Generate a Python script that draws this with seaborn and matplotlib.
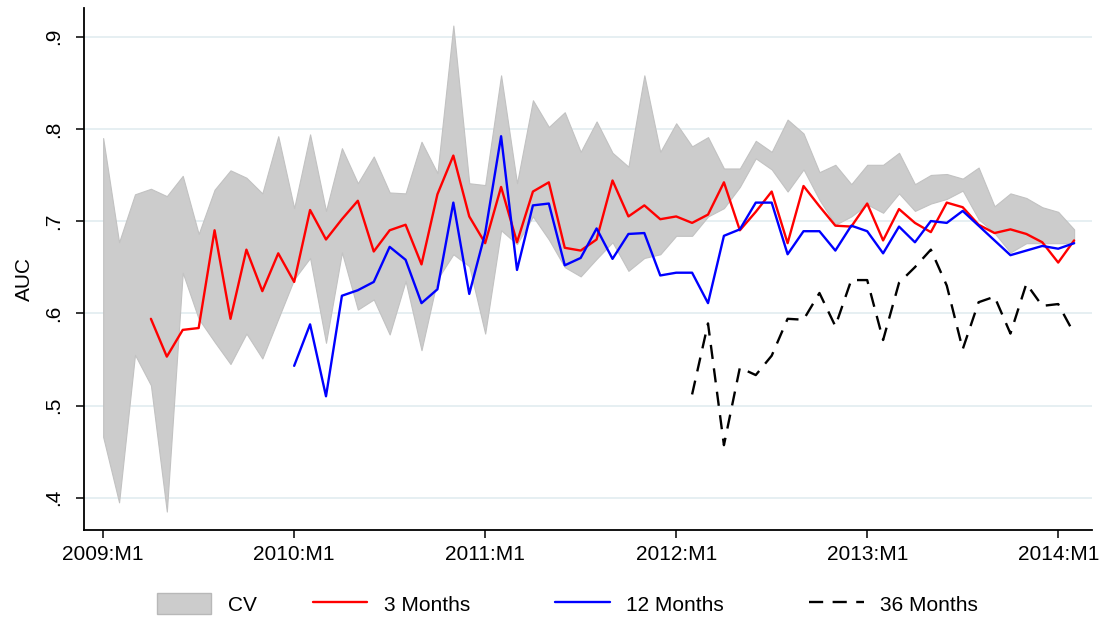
import numpy as np
import pandas as pd
import matplotlib
matplotlib.use("Agg")
import matplotlib.pyplot as plt
import seaborn as sns
from matplotlib.patches import Patch
from matplotlib.lines import Line2D

# Monthly AUC, 2009:M1 .. 2014:M2 (month index 0..61)
tick_labels = ["2009:M1", "2010:M1", "2011:M1", "2012:M1", "2013:M1", "2014:M1"]

cv_upper = [.790, .677, .729, .735, .727, .749, .686, .734, .755, .747,
            .730, .792, .714, .794, .711, .779, .741, .770, .731, .730,
            .786, .752, .912, .741, .739, .858, .741, .831, .802, .818,
            .775, .808, .774, .759, .858, .775, .806, .781, .791, .757,
            .757, .787, .775, .810, .795, .753, .761, .740, .761, .761,
            .774, .740, .750, .751, .746, .758, .716, .730, .725, .715,
            .710, .691]
cv_lower = [.466, .395, .555, .522, .385, .644, .594, .569, .545, .578,
            .551, .594, .637, .660, .568, .666, .604, .615, .577, .635,
            .560, .637, .664, .651, .578, .690, .675, .705, .680, .650,
            .640, .659, .677, .646, .660, .664, .684, .684, .705, .714,
            .737, .768, .756, .732, .756, .723, .696, .705, .718, .709,
            .730, .711, .719, .724, .733, .702, .687, .666, .676, .676,
            .676, .676]

start_3m = 3
auc_3m = [.594, .553, .582, .584, .690, .594, .669, .624, .665, .634,
          .712, .680, .702, .722, .667, .690, .696, .653, .729, .771,
          .705, .676, .737, .677, .732, .742, .671, .668, .680, .744,
          .705, .717, .702, .705, .698, .707, .742, .690, .710, .732,
          .676, .738, .716, .695, .694, .719, .679, .713, .698, .688,
          .720, .715, .696, .687, .691, .686, .677, .655, .679]

start_12m = 12
auc_12m = [.543, .588, .510, .619, .625, .634, .672, .658, .611, .626,
           .720, .621, .687, .792, .647, .717, .719, .652, .660, .692,
           .659, .686, .687, .641, .644, .644, .611, .684, .691, .720,
           .720, .664, .689, .689, .668, .695, .689, .665, .694, .677,
           .700, .698, .711, .695, .679, .663, .668, .673, .670, .676]

start_36m = 37
auc_36m = [.512, .589, .457, .541, .533, .554, .594, .593, .622, .586,
           .636, .636, .571, .633, .650, .669, .630, .561, .612, .618,
           .578, .632, .608, .610, .578]

months = np.arange(len(cv_upper))
df_3m = pd.DataFrame({"t": months[start_3m:start_3m + len(auc_3m)], "auc": auc_3m})
df_12m = pd.DataFrame({"t": months[start_12m:start_12m + len(auc_12m)], "auc": auc_12m})
df_36m = pd.DataFrame({"t": months[start_36m:start_36m + len(auc_36m)], "auc": auc_36m})

sns.set_style("white")
plt.rcParams["font.family"] = ["Liberation Sans", "DejaVu Sans"]
plt.rcParams["text.color"] = "black"
plt.rcParams["axes.labelcolor"] = "black"

fig = plt.figure(figsize=(11.06, 6.17), dpi=100)
ax = fig.add_axes([0.076, 0.141, 0.911, 0.846])

band_col = "#cccccc"
ax.fill_between(months, cv_lower, cv_upper, facecolor=band_col,
                edgecolor="#c2c2c2", linewidth=0.8, zorder=2)
sns.lineplot(data=df_3m, x="t", y="auc", color="#ff0000", lw=1.7, ax=ax, zorder=3)
sns.lineplot(data=df_12m, x="t", y="auc", color="#0000ff", lw=1.7, ax=ax, zorder=3)
sns.lineplot(data=df_36m, x="t", y="auc", color="black", lw=1.7,
             linestyle=(0, (6, 4)), ax=ax, zorder=3)

ax.set_xlim(-1.2, 62.1)
ax.set_ylim(0.365, 0.931)
ax.set_xticks([0, 12, 24, 36, 48, 60])
ax.set_xticklabels(tick_labels)
ax.set_yticks([.4, .5, .6, .7, .8, .9])
ax.set_yticklabels([".4", ".5", ".6", ".7", ".8", ".9"], rotation=90, va="center")
ax.tick_params(axis="both", direction="out", length=6, width=1.1, color="black",
               labelsize=15, labelcolor="black", left=True, bottom=True)
ax.tick_params(axis="y", pad=9)
ax.tick_params(axis="x", pad=5)
ax.yaxis.grid(True, color="#e4eef1", lw=1.3)
ax.xaxis.grid(False)
ax.set_axisbelow(True)

for side in ["top", "right"]:
    ax.spines[side].set_visible(False)
for side in ["left", "bottom"]:
    ax.spines[side].set_color("black")
    ax.spines[side].set_linewidth(1.3)

ax.set_xlabel("")
ax.set_ylabel("AUC", fontsize=15)
ax.yaxis.set_label_coords(-0.050, 0.48)

# two legend blocks: the CV key sits a little closer to the line keys
leg_kw = dict(loc="lower left", frameon=False, fontsize=15, handlelength=2.6,
              handleheight=1.15, handletextpad=0.8, borderpad=0, borderaxespad=0)
cv_leg = fig.legend([Patch(facecolor=band_col, edgecolor="#b8b8b8", linewidth=1)], ["CV"],
                    bbox_to_anchor=(0.142, 0.004), **leg_kw)
line_handles = [Line2D([], [], color="#ff0000", lw=1.7),
                Line2D([], [], color="#0000ff", lw=1.7),
                Line2D([], [], color="black", lw=1.7, linestyle=(0, (6, 4)))]
fig.legend(line_handles, ["3 Months", "12 Months", "36 Months"], ncol=3,
           columnspacing=4.1, bbox_to_anchor=(0.283, 0.004), **leg_kw)

fig.savefig("out.png", dpi=100)
